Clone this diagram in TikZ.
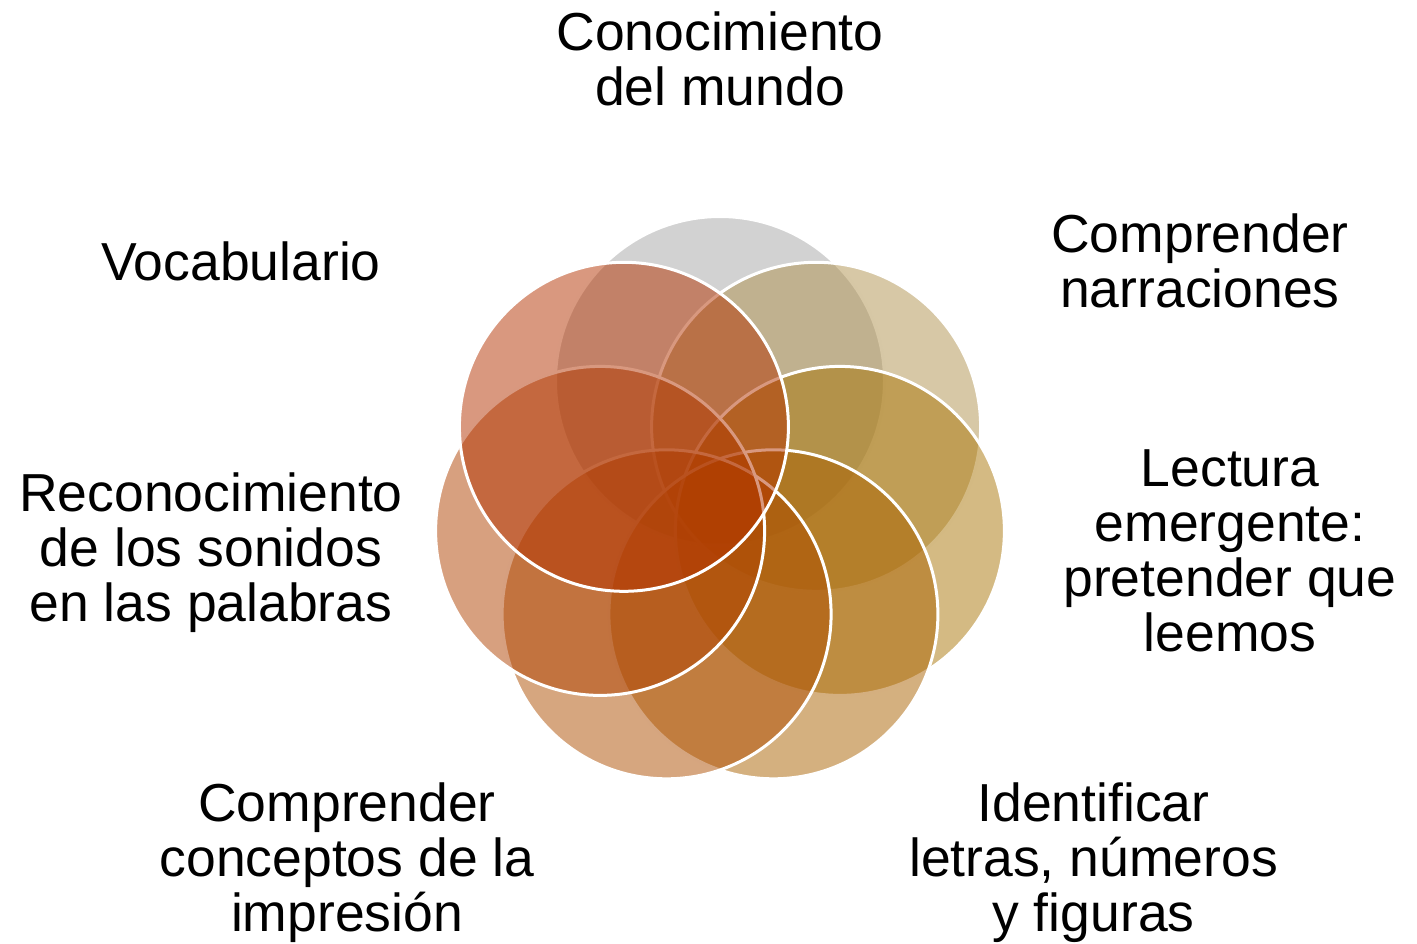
\documentclass[tikz,border=0pt]{standalone}
\usepackage{fontspec}
\setmainfont{Liberation Sans}
\definecolor{cA}{RGB}{165,165,165}
\definecolor{cB}{RGB}{175,145,77}
\definecolor{cC}{RGB}{169,117,7}
\definecolor{cD}{RGB}{170,97,0}
\definecolor{cE}{RGB}{173,77,0}
\definecolor{cF}{RGB}{175,65,0}
\definecolor{cG}{RGB}{179,50,0}
\tikzset{
  venn/.style={circle, minimum size=329pt, inner sep=0pt, draw=white, line width=3pt, fill opacity=0.5, draw opacity=1},
  lbl/.style={align=center, inner sep=0pt, font=\fontsize{53.5}{55}\selectfont, text=black}
}
\begin{document}
\begin{tikzpicture}[x=1pt,y=-1pt]
\useasboundingbox (0,0) rectangle (1417,943);
\node[venn, fill=cA] (c1) at (720,381) {};
\node[venn, fill=cB] (c2) at (816.1,426.8) {};
\node[venn, fill=cC] (c3) at (839.9,530.9) {};
\node[venn, fill=cD] (c4) at (773.4,614.3) {};
\node[venn, fill=cE] (c5) at (666.6,614.3) {};
\node[venn, fill=cF] (c6) at (600.1,530.9) {};
\node[venn, fill=cG] (c7) at (623.9,426.8) {};
\node[lbl] (t1) at (720,59) {Conocimiento\\del mundo};
\node[lbl] (t2) at (1200,261) {Comprender\\narraciones};
\node[lbl] (t3) at (1230,551) {Lectura\\emergente:\\pretender que\\leemos};
\node[lbl] (t4) at (1093.5,863) {Identificar\\letras, números\\y figuras};
\node[lbl] (t5) at (347,863) {Comprender\\conceptos de la\\impresión};
\node[lbl] (t6) at (211,553) {Reconocimiento\\de los sonidos\\en las palabras};
\node[lbl] (t7) at (241,261) {Vocabulario};
\end{tikzpicture}
\end{document}
